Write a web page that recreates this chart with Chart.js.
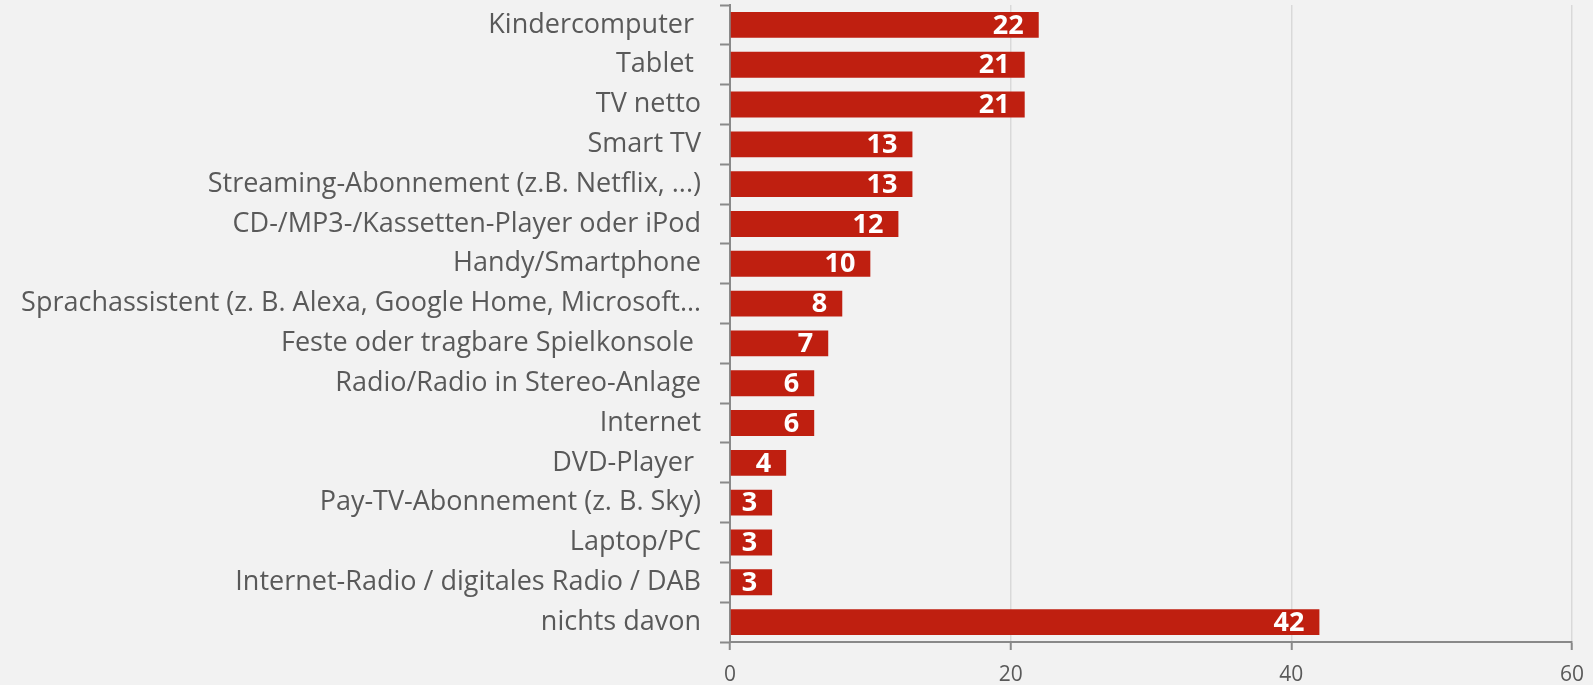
<!DOCTYPE html>
<html>
<head>
<meta charset="utf-8">
<script src="https://cdn.jsdelivr.net/npm/chart.js@4"></script>
<style>
  html, body { margin: 0; padding: 0; background: #f2f2f2; }
  #wrap { width: 1593px; height: 685px; position: relative; }
</style>
</head>
<body>
<div id="wrap"><canvas id="chart"></canvas></div>
<script>
// categories, top to bottom (trailing spaces as in the source labels)
const categories = [
  "Kindercomputer ",
  "Tablet ",
  "TV netto",
  "Smart TV",
  "Streaming-Abonnement (z.B. Netflix, ...)",
  "CD-/MP3-/Kassetten-Player oder iPod",
  "Handy/Smartphone",
  "Sprachassistent (z. B. Alexa, Google Home, Microsoft\u2026",
  "Feste oder tragbare Spielkonsole ",
  "Radio/Radio in Stereo-Anlage",
  "Internet",
  "DVD-Player ",
  "Pay-TV-Abonnement (z. B. Sky)",
  "Laptop/PC",
  "Internet-Radio / digitales Radio / DAB",
  "nichts davon",
];
const values = [22, 21, 21, 13, 13, 12, 10, 8, 7, 6, 6, 4, 3, 3, 3, 42];
const xTicks = [0, 20, 40, 60];

const textColor = "#595959";
const axisColor = "#898989";

// white value labels at the inner end of each bar
const barValueLabels = {
  id: "barValueLabels",
  afterDatasetsDraw(chart) {
    const ctx = chart.ctx;
    const meta = chart.getDatasetMeta(0);
    ctx.save();
    ctx.fillStyle = "#ffffff";
    ctx.font = "bold 27px 'Open Sans'";
    ctx.textAlign = "right";
    ctx.textBaseline = "middle";
    meta.data.forEach((bar, i) => {
      ctx.fillText(String(values[i]), bar.x - 15, bar.y + 1);
    });
    ctx.restore();
  },
};

const ctx = document.getElementById("chart").getContext("2d");
new Chart(ctx, {
  type: "bar",
  data: {
    labels: categories,
    datasets: [
      {
        data: values,
        backgroundColor: "#bf1f10",
        borderWidth: 0,
        categoryPercentage: 1.0,
        barPercentage: 0.65,
      },
    ],
  },
  options: {
    indexAxis: "y",
    responsive: true,
    maintainAspectRatio: false,
    animation: false,
    layout: { padding: { top: 5, right: 21, left: 0, bottom: 0 } },
    plugins: {
      legend: { display: false },
      tooltip: { enabled: false },
    },
    scales: {
      x: {
        min: 0,
        max: 60,
        afterBuildTicks: (scale) => {
          scale.ticks = xTicks.map((v) => ({ value: v }));
        },
        afterFit: (scale) => {
          scale.height = 43;
          scale.paddingLeft = 0;
          scale.paddingRight = 0;
        },
        grid: {
          color: "#d9d9d9",
          lineWidth: 1.5,
          tickColor: axisColor,
          tickLength: 8,
          tickWidth: 2,
        },
        border: { color: axisColor, width: 2 },
        ticks: {
          color: textColor,
          font: { family: "'Open Sans'", size: 21 },
          padding: 12,
        },
      },
      y: {
        afterFit: (scale) => {
          scale.width = 730;
          scale.paddingTop = 0;
          scale.paddingBottom = 0;
        },
        grid: {
          drawOnChartArea: false,
          tickColor: axisColor,
          tickLength: 10,
          tickWidth: 2,
        },
        border: { color: axisColor, width: 2 },
        ticks: {
          autoSkip: false,
          color: textColor,
          font: { family: "'Open Sans'", size: 27 },
          padding: 19,
        },
      },
    },
  },
  plugins: [barValueLabels],
});
</script>
</body>
</html>
